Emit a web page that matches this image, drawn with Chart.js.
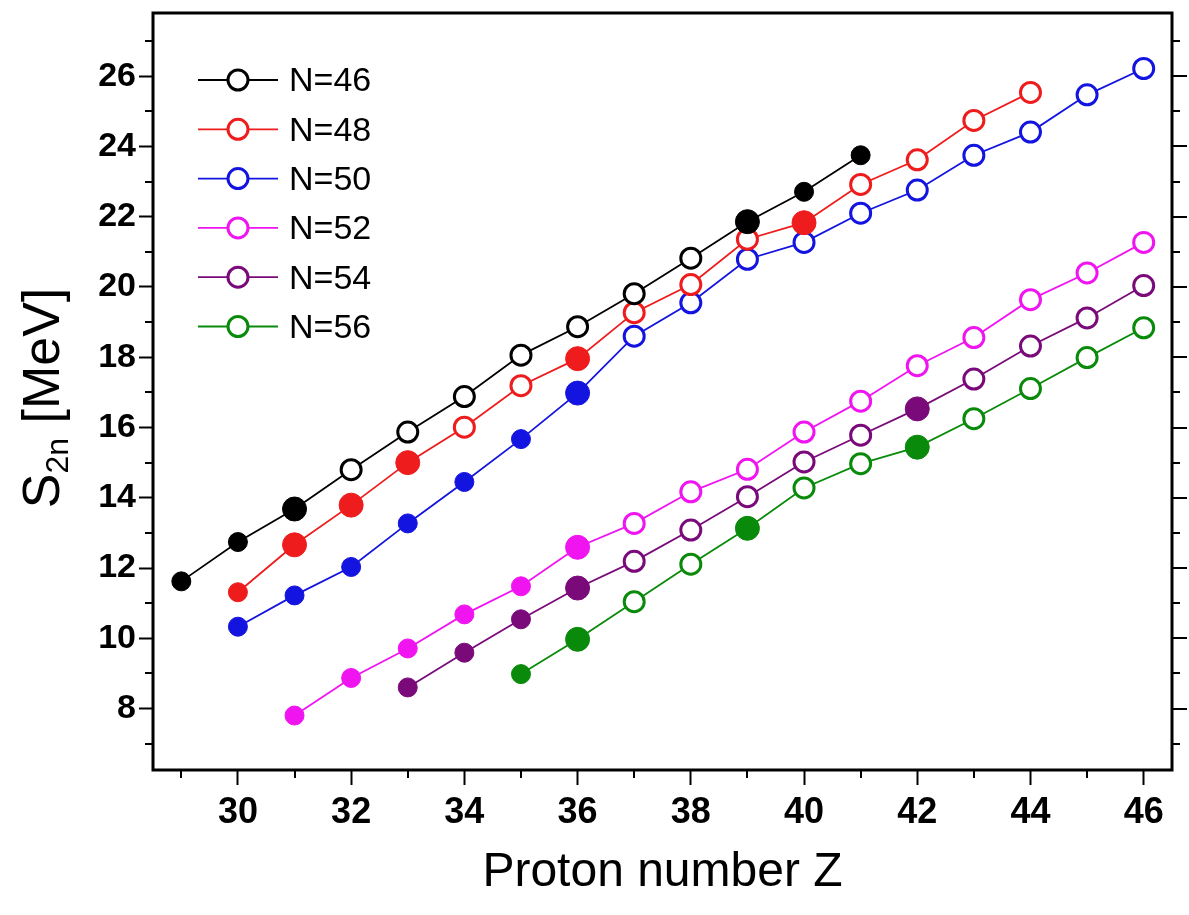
<!DOCTYPE html>
<html>
<head>
<meta charset="utf-8">
<title>S2n vs Z</title>
<script src="https://cdn.jsdelivr.net/npm/chart.js@4.4.0/dist/chart.umd.min.js"></script>
<style>
    html, body { margin: 0; padding: 0; background: #fff; }
</style>
</head>
<body>
<canvas id="chartId" width="1189" height="915"></canvas>
<script>
// Proton numbers and two-neutron separation energies (MeV) for each isotone
const z46 = [29, 30, 31, 32, 33, 34, 35, 36, 37, 38, 39, 40, 41];
const s2n46 = [11.62, 12.74, 13.68, 14.80, 15.87, 16.88, 18.06, 18.87, 19.81, 20.82, 21.86, 22.71, 23.75];

const z48 = [30, 31, 32, 33, 34, 35, 36, 37, 38, 39, 40, 41, 42, 43, 44];
const s2n48 = [11.31, 12.66, 13.79, 15.00, 16.01, 17.19, 17.96, 19.27, 20.07, 21.36, 21.83, 22.92, 23.62, 24.74, 25.54];

const z50 = [30, 31, 32, 33, 34, 35, 36, 37, 38, 39, 40, 41, 42, 43, 44, 45, 46];
const s2n50 = [10.33, 11.22, 12.03, 13.27, 14.45, 15.67, 16.98, 18.60, 19.55, 20.79, 21.27, 22.10, 22.76, 23.75, 24.41, 25.47, 26.22];

const z52 = [31, 32, 33, 34, 35, 36, 37, 38, 39, 40, 41, 42, 43, 44, 45, 46];
const s2n52 = [7.80, 8.87, 9.71, 10.68, 11.48, 12.59, 13.27, 14.17, 14.81, 15.87, 16.75, 17.76, 18.56, 19.64, 20.40, 21.27];

const z54 = [33, 34, 35, 36, 37, 38, 39, 40, 41, 42, 43, 44, 45, 46];
const s2n54 = [8.60, 9.59, 10.54, 11.43, 12.19, 13.08, 14.03, 15.02, 15.78, 16.53, 17.38, 18.32, 19.12, 20.04];

const z56 = [35, 36, 37, 38, 39, 40, 41, 42, 43, 44, 45, 46];
const s2n56 = [8.98, 9.97, 11.04, 12.11, 13.13, 14.28, 14.97, 15.44, 16.25, 17.11, 17.99, 18.84];

// Marker kind per point: f = small filled, F = big filled, o = open
const mark46 = ['f', 'f', 'F', 'o', 'o', 'o', 'o', 'o', 'o', 'o', 'F', 'f', 'f'];
const mark48 = ['f', 'F', 'F', 'F', 'o', 'o', 'F', 'o', 'o', 'o', 'F', 'o', 'o', 'o', 'o'];
const mark50 = ['f', 'f', 'f', 'f', 'f', 'f', 'F', 'o', 'o', 'o', 'o', 'o', 'o', 'o', 'o', 'o', 'o'];
const mark52 = ['f', 'f', 'f', 'f', 'f', 'F', 'o', 'o', 'o', 'o', 'o', 'o', 'o', 'o', 'o', 'o'];
const mark54 = ['f', 'f', 'f', 'F', 'o', 'o', 'o', 'o', 'o', 'F', 'o', 'o', 'o', 'o'];
const mark56 = ['f', 'F', 'o', 'o', 'F', 'o', 'o', 'F', 'o', 'o', 'o', 'o'];

// Tick labels
const xTicks = [30, 32, 34, 36, 38, 40, 42, 44, 46];
const yTicks = [8, 10, 12, 14, 16, 18, 20, 22, 24, 26];

const seriesLabels = ['N=46', 'N=48', 'N=50', 'N=52', 'N=54', 'N=56'];
const seriesColors = ['#000000', '#ee1c1c', '#1414e0', '#f014f0', '#7a0a7a', '#0a8a0a'];

function makeDataset(i, zs, vals, marks) {
    const color = seriesColors[i];
    return {
        label: seriesLabels[i],
        data: zs.map((z, k) => ({ x: z, y: vals[k] })),
        borderColor: color,
        borderWidth: 1.8,
        fill: false,
        tension: 0,
        pointStyle: 'circle',
        pointRadius: ctx => marks[ctx.dataIndex] === 'F' ? 12 : (marks[ctx.dataIndex] === 'f' ? 9.5 : 10),
        pointBorderWidth: ctx => marks[ctx.dataIndex] === 'o' ? 3 : 1,
        pointBackgroundColor: ctx => marks[ctx.dataIndex] === 'o' ? '#ffffff' : color,
        pointBorderColor: color,
        pointHoverRadius: 0
    };
}

// Frame, minor ticks, right ticks, y title and legend
const decorPlugin = {
    id: 'decor',
    afterDraw(chart) {
        const { ctx, chartArea: a, scales: { x, y } } = chart;
        ctx.save();
        ctx.strokeStyle = '#000';
        ctx.lineWidth = 2;
        ctx.beginPath();
        for (let v = 7; v <= 27; v++) {
            const py = Math.round(y.getPixelForValue(v));
            if (v % 2) {
                ctx.moveTo(a.left - 8, py);
                ctx.lineTo(a.left, py);
            }
            ctx.moveTo(a.right, py);
            ctx.lineTo(a.right + (v % 2 ? 8 : 15), py);
        }
        for (let z = 29; z <= 46; z += 2) {
            const px = Math.round(x.getPixelForValue(z));
            ctx.moveTo(px, a.bottom);
            ctx.lineTo(px, a.bottom + 8);
        }
        ctx.stroke();

        ctx.lineWidth = 3;
        ctx.strokeRect(a.left, a.top, a.right - a.left, a.bottom - a.top);

        // y axis title with subscript
        ctx.fillStyle = '#000';
        ctx.translate(45, 398);
        ctx.rotate(-Math.PI / 2);
        ctx.textBaseline = 'middle';
        const big = '52px "Liberation Sans", Arial, sans-serif';
        const small = '32px "Liberation Sans", Arial, sans-serif';
        ctx.font = big;
        const wS = ctx.measureText('S').width;
        const wRest = ctx.measureText(' [MeV]').width;
        ctx.font = small;
        const wSub = ctx.measureText('2n').width;
        let tx = -(wS + wSub + wRest) / 2;
        ctx.textAlign = 'left';
        ctx.font = big;
        ctx.fillText('S', tx, 0);
        tx += wS;
        ctx.font = small;
        ctx.fillText('2n', tx, 14);
        tx += wSub;
        ctx.font = big;
        ctx.fillText(' [MeV]', tx, 0);
        ctx.restore();

        // legend
        ctx.save();
        ctx.textBaseline = 'middle';
        ctx.textAlign = 'left';
        ctx.font = '34px "Liberation Sans", Arial, sans-serif';
        seriesLabels.forEach((lab, i) => {
            const ly = 80 + i * 49.3;
            ctx.strokeStyle = seriesColors[i];
            ctx.lineWidth = 1.8;
            ctx.beginPath();
            ctx.moveTo(198, ly);
            ctx.lineTo(278, ly);
            ctx.stroke();
            ctx.beginPath();
            ctx.arc(238, ly, 10, 0, Math.PI * 2);
            ctx.fillStyle = '#fff';
            ctx.fill();
            ctx.lineWidth = 3;
            ctx.stroke();
            ctx.fillStyle = '#000';
            ctx.fillText(lab, 289, ly + 2);
        });
        ctx.restore();
    }
};

const canvasElement = document.getElementById('chartId').getContext('2d');

const chart = new Chart(canvasElement, {
    type: 'line',
    data: {
        datasets: [
            makeDataset(0, z46, s2n46, mark46),
            makeDataset(1, z48, s2n48, mark48),
            makeDataset(2, z50, s2n50, mark50),
            makeDataset(3, z52, s2n52, mark52),
            makeDataset(4, z54, s2n54, mark54),
            makeDataset(5, z56, s2n56, mark56)
        ]
    },
    options: {
        responsive: false,
        animation: false,
        devicePixelRatio: 1,
        layout: { padding: { top: 9, right: 17, left: 0, bottom: 0 } },
        plugins: {
            legend: { display: false },
            tooltip: { enabled: false }
        },
        scales: {
            x: {
                type: 'linear',
                min: 28.5,
                max: 46.5,
                grid: { drawOnChartArea: false, tickLength: 15, tickWidth: 2, tickColor: '#000' },
                border: { display: false },
                ticks: {
                    maxRotation: 0,
                    autoSkip: false,
                    color: '#000',
                    padding: 6,
                    font: { family: '"Liberation Sans", Arial, sans-serif', weight: 'bold', size: 36 }
                },
                title: {
                    display: true,
                    text: 'Proton number Z',
                    color: '#000',
                    padding: { top: 0, bottom: 13 },
                    font: { family: '"Liberation Sans", Arial, sans-serif', size: 48 }
                },
                afterBuildTicks(scale) { scale.ticks = xTicks.map(v => ({ value: v })); },
                afterFit(scale) {
                    scale.height = 145;
                    scale.paddingLeft = 0;
                    scale.paddingRight = 0;
                }
            },
            y: {
                min: 6.25,
                max: 27.8,
                grid: { drawOnChartArea: false, tickLength: 14, tickWidth: 2, tickColor: '#000' },
                border: { display: false },
                ticks: {
                    autoSkip: false,
                    color: '#000',
                    padding: 3,
                    font: { family: '"Liberation Sans", Arial, sans-serif', weight: 'bold', size: 34 }
                },
                afterBuildTicks(scale) { scale.ticks = yTicks.map(v => ({ value: v })); },
                afterFit(scale) {
                    scale.width = 153;
                    scale.paddingTop = 0;
                    scale.paddingBottom = 0;
                }
            }
        }
    },
    plugins: [decorPlugin]
});
</script>
</body>
</html>
